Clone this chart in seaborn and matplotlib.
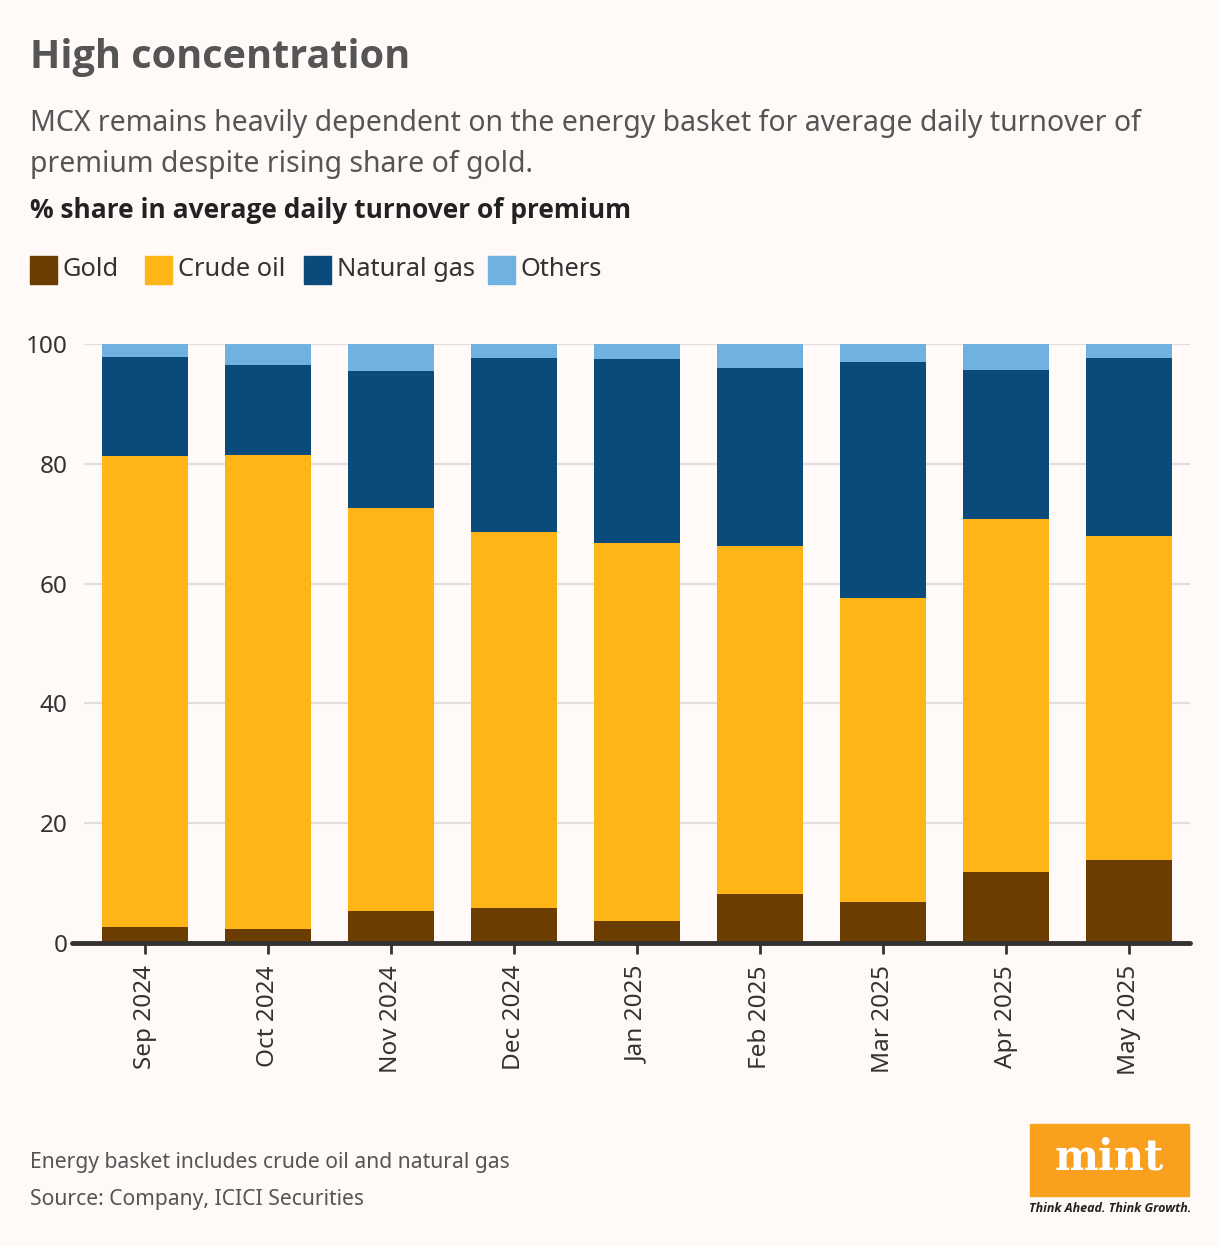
import seaborn as sns
import matplotlib.pyplot as plt
from matplotlib.patches import Rectangle
import numpy as np

# months on the x axis
months = ['Sep 2024', 'Oct 2024', 'Nov 2024', 'Dec 2024', 'Jan 2025',
          'Feb 2025', 'Mar 2025', 'Apr 2025', 'May 2025']

# % share in average daily turnover of premium
gold = [2.7, 2.3, 5.3, 5.8, 3.7, 8.2, 6.8, 11.9, 13.9]
crude_oil = [78.6, 79.2, 67.3, 62.8, 63.1, 58.1, 50.8, 58.9, 54.0]
natural_gas = [16.5, 15.0, 22.9, 29.1, 30.7, 29.7, 39.4, 24.9, 29.8]
others = [2.2, 3.5, 4.5, 2.3, 2.5, 4.0, 3.0, 4.3, 2.3]

series = ['Gold', 'Crude oil', 'Natural gas', 'Others']
colors = ['#6c3d00', '#fdb517', '#0b4b7b', '#6fb2e2']

bg = '#fff9f8'
W, H = 1220, 1246

sns.set_theme(style='white')
plt.rcParams['font.family'] = ['Noto Sans', 'DejaVu Sans']
BOLD = ['Open Sans', 'Lato', 'DejaVu Sans']

fig = plt.figure(figsize=(W / 100, H / 100), dpi=100, facecolor=bg)
ax = fig.add_axes([84 / W, 1 - 943 / H, (1190 - 84) / W, (943 - 344) / H], facecolor=bg)

# stacked bars: draw cumulative tops from tallest to shortest
stack = np.cumsum(np.array([gold, crude_oil, natural_gas, others]), axis=0)
for i in range(len(series) - 1, -1, -1):
    sns.barplot(x=months, y=stack[i], color=colors[i], saturation=1,
                width=0.7, ax=ax, zorder=3, linewidth=0, edgecolor='none')

ax.set_xlim(-0.5, len(months) - 0.5)
ax.set_ylim(0, 100)
ax.set_yticks([0, 20, 40, 60, 80, 100])
ax.yaxis.grid(True, color='#e2dede', linewidth=1.6, zorder=0)
ax.set_axisbelow(True)
for s in ['top', 'right', 'left', 'bottom']:
    ax.spines[s].set_visible(False)
ax.axhline(0, xmin=-0.011, xmax=1, color='#333333', linewidth=3.5,
           clip_on=False, zorder=5)
ax.tick_params(axis='y', length=0, pad=12, labelsize=17.5, labelcolor='#333333')
ax.tick_params(axis='x', length=8, width=2, color='#333333', pad=8,
               labelsize=17.5, labelcolor='#333333', bottom=True)
plt.setp(ax.get_xticklabels(), rotation=90)
ax.set_xlabel('')
ax.set_ylabel('')

# header texts
fig.text(30 / W, 1 - 68 / H, 'High concentration', fontsize=28.5, fontweight='bold',
         family=BOLD, color='#555555', va='baseline', ha='left')
fig.text(30 / W, 1 - 131 / H,
         'MCX remains heavily dependent on the energy basket for average daily turnover of',
         fontsize=20.5, color='#555555', va='baseline', ha='left')
fig.text(30 / W, 1 - 172 / H, 'premium despite rising share of gold.',
         fontsize=20.5, color='#555555', va='baseline', ha='left')
fig.text(30 / W, 1 - 218 / H, '% share in average daily turnover of premium',
         fontsize=19, fontweight='bold', family=BOLD, color='#222222',
         va='baseline', ha='left')

# legend
leg_x = [30, 145, 304, 488]
for x0, name, c in zip(leg_x, series, colors):
    fig.patches.append(Rectangle((x0 / W, 1 - 284 / H), 27 / W, 28 / H,
                                 transform=fig.transFigure, color=c))
    fig.text((x0 + 33) / W, 1 - 269 / H, name, fontsize=18.3, color='#333333',
             va='center', ha='left')

# footer
fig.text(30 / W, 1 - 1168 / H, 'Energy basket includes crude oil and natural gas',
         fontsize=15.2, color='#555555', va='baseline', ha='left')
fig.text(30 / W, 1 - 1205 / H, 'Source: Company, ICICI Securities',
         fontsize=15.2, color='#555555', va='baseline', ha='left')

# mint logo
fig.patches.append(Rectangle((1030 / W, 1 - 1196 / H), 159 / W, 72 / H,
                             transform=fig.transFigure, color='#f9a11f'))
fig.text(1109 / W, 1 - 1157 / H, 'mint', fontsize=30, fontweight='bold',
         family='DejaVu Serif', color='white', ha='center', va='center')
fig.text(1110 / W, 1 - 1209 / H, 'Think Ahead. Think Growth.', fontsize=9,
         fontweight='bold', style='italic', family=BOLD, color='#222222',
         ha='center', va='center')

fig.savefig('out.png', dpi=100, facecolor=bg)
